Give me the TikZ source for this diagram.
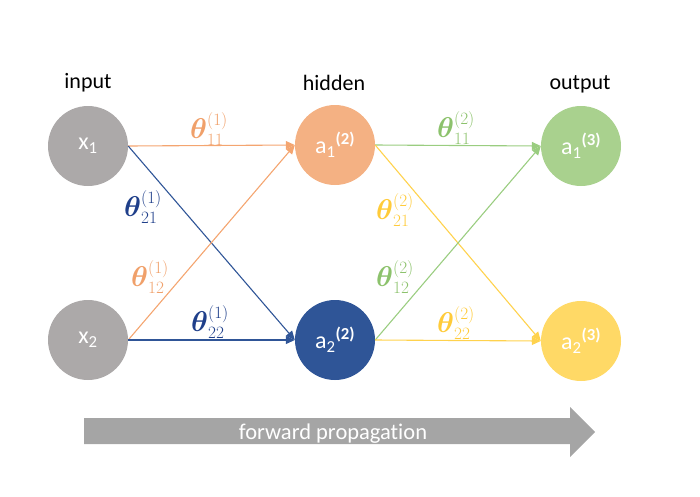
\documentclass[tikz,border=0pt]{standalone}
\usepackage{amsmath}
\usepackage{bm}
\usepackage{fontspec}
\setmainfont[Ligatures=NoCommon]{Carlito}
\usetikzlibrary{arrows.meta}
\definecolor{ngray}{HTML}{ACA9A9}
\definecolor{norange}{HTML}{F4B183}
\definecolor{lorange}{HTML}{F4A570}
\definecolor{torange}{HTML}{F0A06A}
\definecolor{nblue}{HTML}{2F5597}
\definecolor{tblue}{HTML}{1F3F8A}
\definecolor{ngreen}{HTML}{A9D18E}
\definecolor{lgreen}{HTML}{9ACD80}
\definecolor{tgreen}{HTML}{8CC26C}
\definecolor{nyellow}{HTML}{FFD966}
\definecolor{lyellow}{HTML}{FFD24D}
\definecolor{tyellow}{HTML}{FFCB3A}
\definecolor{agray}{HTML}{A5A5A5}
\newcommand{\wth}{\mathord{\scalebox{1.15}{$\bm{\theta}$}}}
\tikzset{
  neuron/.style={circle, minimum size=80pt, inner sep=0pt, text=white, font=\fontsize{24}{24}\selectfont},
  layerlabel/.style={anchor=base, font=\fontsize{22}{22}\selectfont},
  conn/.style={line width=1.1pt, -{Triangle[length=9pt,width=8pt]}},
  wlabel/.style={font=\fontsize{25}{25}\selectfont, inner sep=0pt}
}
\begin{document}
\begin{tikzpicture}[x=1pt,y=-1pt]
\useasboundingbox (0,0) rectangle (700,496);
% layer labels
\node[layerlabel] (lin) at (88,88) {input};
\node[layerlabel] (lhid) at (334,90) {hidden};
\node[layerlabel] (lout) at (580,89) {output};
% neurons
\node[neuron, fill=ngray] (x1) at (88,146) {x\textsubscript{1}};
\node[neuron, fill=ngray] (x2) at (88,340) {x\textsubscript{2}};
\node[neuron, fill=norange] (a12) at (335,145) {a\textsubscript{1}\textsuperscript{\textbf{(2)}}};
\node[neuron, fill=nblue] (a22) at (335,340) {a\textsubscript{2}\textsuperscript{\textbf{(2)}}};
\node[neuron, fill=ngreen] (a13) at (581,146) {a\textsubscript{1}\textsuperscript{\textbf{(3)}}};
\node[neuron, fill=nyellow] (a23) at (581,341) {a\textsubscript{2}\textsuperscript{\textbf{(3)}}};
% connections
\draw[conn, lorange] (x1.east) -- (a12.west);
\draw[conn, nblue] (x1.east) -- (a22.west);
\draw[conn, lorange] (x2.east) -- (a12.west);
\draw[conn, nblue] (x2.east) -- (a22.west);
\draw[conn, lgreen] (a12.east) -- (a13.west);
\draw[conn, lyellow] (a12.east) -- (a23.west);
\draw[conn, lgreen] (a22.east) -- (a13.west);
\draw[conn, lyellow] (a22.east) -- (a23.west);
% weights
\node[wlabel, text=torange] (t111) at (209,129) {$\wth^{(1)}_{11}$};
\node[wlabel, text=tblue] (t121) at (143,207) {$\wth^{(1)}_{21}$};
\node[wlabel, text=torange] (t112) at (150,277) {$\wth^{(1)}_{12}$};
\node[wlabel, text=tblue] (t122) at (210,322) {$\wth^{(1)}_{22}$};
\node[wlabel, text=tgreen] (t211) at (456,128) {$\wth^{(2)}_{11}$};
\node[wlabel, text=tyellow] (t221) at (395,210) {$\wth^{(2)}_{21}$};
\node[wlabel, text=tgreen] (t212) at (395,277) {$\wth^{(2)}_{12}$};
\node[wlabel, text=tyellow] (t222) at (456,323) {$\wth^{(2)}_{22}$};
% forward arrow
\fill[agray] (84,418) -- (570,418) -- (570,407) -- (595,432) -- (570,457) -- (570,444) -- (84,444) -- cycle;
\node[text=white, font=\fontsize{22.5}{22.5}\selectfont, anchor=base] (fp) at (333,439) {forward propagation};
\end{tikzpicture}
\end{document}
